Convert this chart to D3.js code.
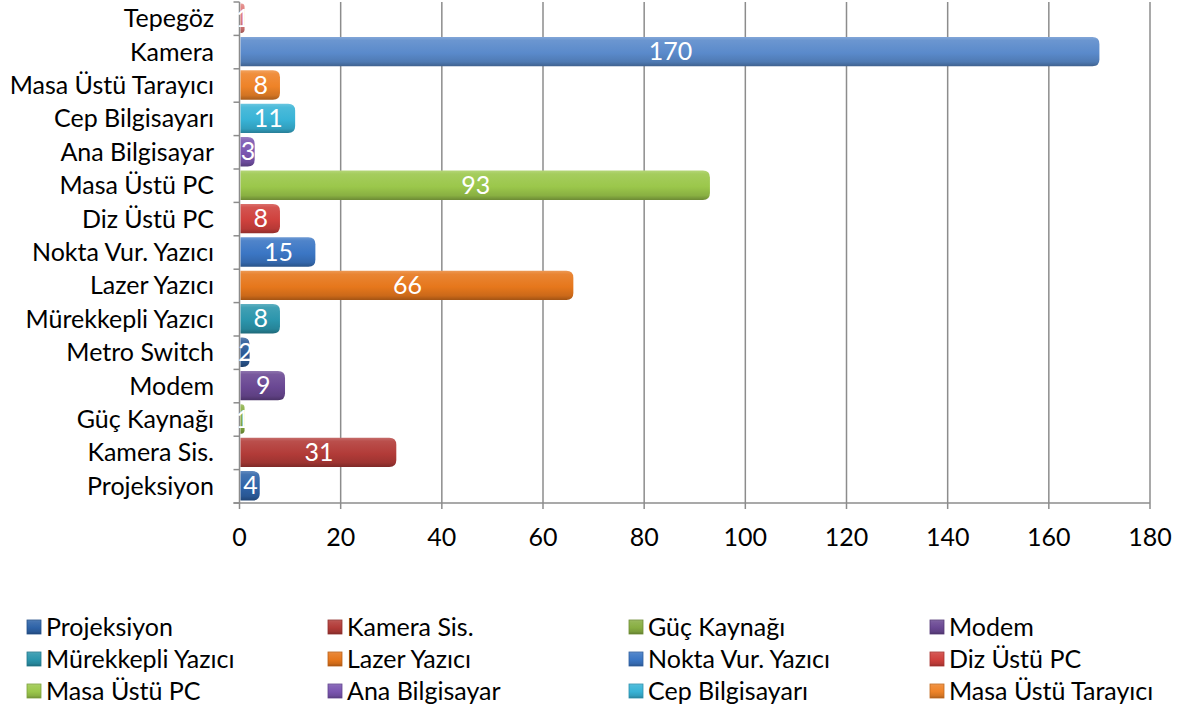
<!DOCTYPE html>
<html><head><meta charset="utf-8">
<script src="https://cdn.jsdelivr.net/npm/d3@7"></script>
<style>
body{margin:0;background:#fff;}
svg{display:block;font-family:Lato,"Open Sans",sans-serif;}
</style></head><body>
<svg id="c" width="1184" height="713"></svg>
<script>
const categories = ["Projeksiyon","Kamera Sis.","Güç Kaynağı","Modem","Metro Switch","Mürekkepli Yazıcı","Lazer Yazıcı","Nokta Vur. Yazıcı","Diz Üstü PC","Masa Üstü PC","Ana Bilgisayar","Cep Bilgisayarı","Masa Üstü Tarayıcı","Kamera","Tepegöz"];
const values = [4,31,1,9,2,8,66,15,8,93,3,11,8,170,1];
const colors = ["#2E63A8","#B23B38","#88AE42","#6A4893","#2C5B98","#2B95AC","#E6771C","#3B76C4","#CF413D","#9BC74B","#7A55B0","#38B3D6","#EE8328","#5A8ACB","#E07C7A"];
const legendItems = ["Projeksiyon","Kamera Sis.","Güç Kaynağı","Modem","Mürekkepli Yazıcı","Lazer Yazıcı","Nokta Vur. Yazıcı","Diz Üstü PC","Masa Üstü PC","Ana Bilgisayar","Cep Bilgisayarı","Masa Üstü Tarayıcı"];
const xTicks = [0,20,40,60,80,100,120,140,160,180];

const FS = 25;
const svg = d3.select("#c");
const pL = 239.5, pR = 1150, pT = 2, pB = 503;
const x = d3.scaleLinear().domain([0,180]).range([pL,pR]);
const band = (pB-pT)/categories.length;
const yIdx = d3.scaleLinear().domain([0,categories.length]).range([pB,pT]);

const defs = svg.append("defs");
colors.forEach((c,i)=>{
  const g = defs.append("linearGradient").attr("id","g"+i).attr("x1",0).attr("x2",0).attr("y1",0).attr("y2",1);
  const base = d3.color(c);
  g.append("stop").attr("offset","0%").attr("stop-color",d3.interpolateRgb(c,"#fff")(0.25));
  g.append("stop").attr("offset","12%").attr("stop-color",d3.interpolateRgb(c,"#fff")(0.1));
  g.append("stop").attr("offset","55%").attr("stop-color",c);
  g.append("stop").attr("offset","85%").attr("stop-color",base.darker(0.35));
  g.append("stop").attr("offset","100%").attr("stop-color",base.darker(1.0));
});

// gridlines
svg.append("g").selectAll("line").data(xTicks.slice(1)).join("line")
  .attr("x1",d=>x(d)).attr("x2",d=>x(d)).attr("y1",pT).attr("y2",pB+6)
  .attr("stroke","#8c8c8c").attr("stroke-width",1.5);

// axes
svg.append("line").attr("x1",pL-6).attr("x2",pR).attr("y1",pB).attr("y2",pB).attr("stroke","#8c8c8c").attr("stroke-width",1.5);
svg.append("line").attr("x1",pL).attr("x2",pL).attr("y1",pT).attr("y2",pB+6).attr("stroke","#8c8c8c").attr("stroke-width",1.5);
svg.append("g").selectAll("line").data(d3.range(categories.length+1)).join("line")
  .attr("x1",pL-6).attr("x2",pL).attr("y1",d=>yIdx(d)).attr("y2",d=>yIdx(d))
  .attr("stroke","#8c8c8c").attr("stroke-width",1.5);

svg.append("g").selectAll("text").data(xTicks).join("text")
  .attr("x",d=>x(d)).attr("y",546).attr("text-anchor","middle")
  .attr("font-size",FS).attr("fill","#000").text(d=>d);

// category labels
svg.append("g").selectAll("text").data(categories).join("text")
  .attr("x",214).attr("y",(d,i)=>yIdx(i+1)+band/2+8.5)
  .attr("text-anchor","end").attr("font-size",FS).attr("fill","#000").text(d=>d);

// bars
const bh = band*0.88;
function barPath(v,yy){
  const x0 = pL+1, x1 = x(v), r = Math.min(7,(x1-x0)/1.2), h = bh;
  return `M${x0},${yy} L${x1-r},${yy} Q${x1},${yy} ${x1},${yy+r} L${x1},${yy+h-r} Q${x1},${yy+h} ${x1-r},${yy+h} L${x0},${yy+h} Z`;
}
const bars = svg.append("g");
categories.forEach((c,i)=>{
  const yy = yIdx(i+1) + (band-bh)/2 - 0.5;
  bars.append("path").attr("d",barPath(values[i],yy)).attr("fill",`url(#g${i})`);
  bars.append("text").attr("x",(pL+x(values[i]))/2+1).attr("y",yy+bh/2+8.5)
    .attr("text-anchor","middle").attr("font-size",FS).attr("fill","#fff").text(values[i]);
});

// legend
const lg = svg.append("g");
legendItems.forEach((d,i)=>{
  const col = i%4, row = Math.floor(i/4);
  const lx = 27 + col*301, ly = 627 + row*32;
  const ci = categories.indexOf(d);
  lg.append("rect").attr("x",lx).attr("y",ly-7).attr("width",14).attr("height",14).attr("fill",`url(#g${ci})`).attr("stroke",d3.color(colors[ci]).darker(0.6)).attr("stroke-width",0.8);
  lg.append("text").attr("x",lx+19).attr("y",ly+8.5).attr("font-size",FS).attr("fill","#000").text(d);
});
</script></body></html>
